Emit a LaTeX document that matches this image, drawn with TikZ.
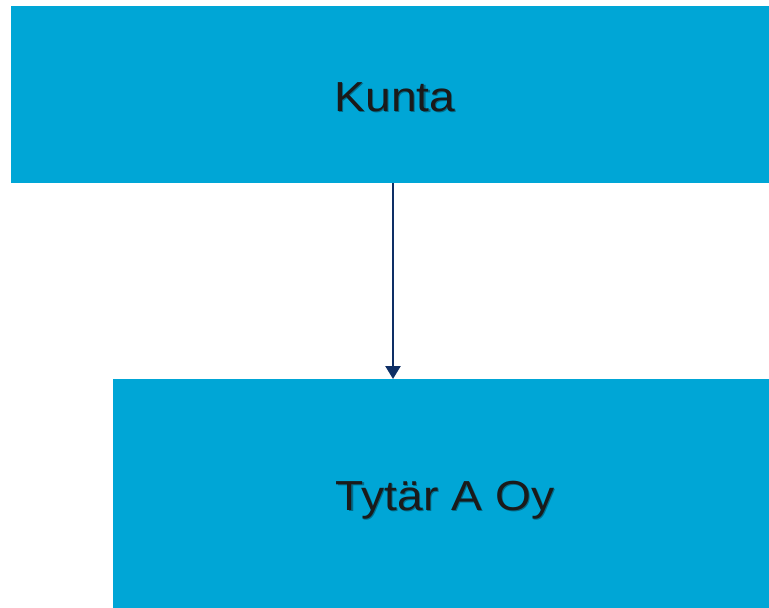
\documentclass[tikz,border=0pt]{standalone}
\usepackage{fontspec}
\setmainfont[FakeStretch=1.1]{Liberation Sans}
\usetikzlibrary{arrows.meta}
\definecolor{boxblue}{HTML}{00A6D6}
\definecolor{navy}{HTML}{0E2F66}
\definecolor{txt}{HTML}{1A1A1A}
\tikzset{
  orgbox/.style={fill=boxblue, draw=none, inner sep=0pt, outer sep=0pt},
  boxtext/.style={text=txt, font=\fontsize{42}{50}\selectfont, inner sep=0pt},
  shadowtext/.style={boxtext, text=black, text opacity=0.35},
  link/.style={draw=navy, line width=2.5pt, -{Triangle[width=15pt,length=13pt]}}
}
\begin{document}
\begin{tikzpicture}[x=1pt,y=-1pt]
\useasboundingbox (0,0) rectangle (769,608);
\path[orgbox] (11,6) rectangle (769,183);
\path[orgbox] (113,379) rectangle (769,608);
\coordinate (topc) at (393,183);
\coordinate (botc) at (393,379);
\node[shadowtext] (kuntas) at (396.2,98.5) {Kunta};
\node[shadowtext] (tytars) at (446.2,501.5) {Tytär A Oy};
\node[boxtext] (kunta) at (395,97) {Kunta};
\node[boxtext] (tytar) at (445,500) {Tytär A Oy};
\draw[link] (topc) -- (botc);
\end{tikzpicture}
\end{document}
